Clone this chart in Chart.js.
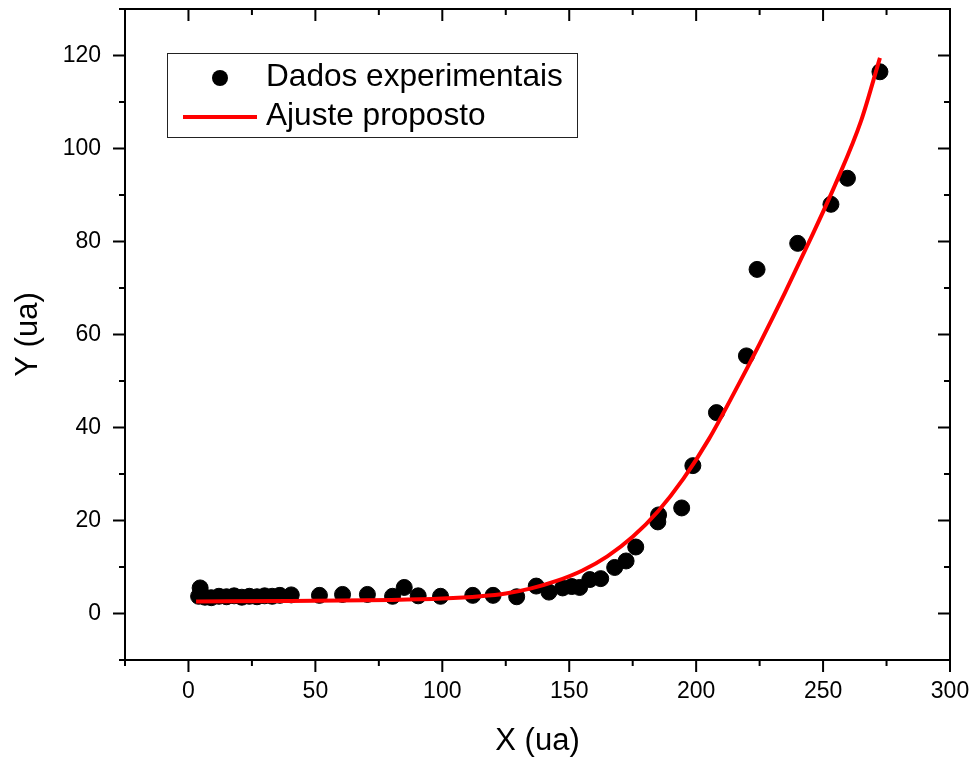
<!DOCTYPE html>
<html>
<head>
<meta charset="utf-8">
<script src="https://cdn.jsdelivr.net/npm/chart.js@4.4.1/dist/chart.umd.min.js"></script>
<style>
  body { margin: 0; background: #fff; }
  #wrap { width: 975px; height: 760px; }
</style>
</head>
<body>
<div id="wrap"><canvas id="chart"></canvas></div>
<script>
// experimental points
const expX = [4.0, 4.6, 6.5, 9, 12, 15, 18, 21, 24, 27, 30, 33, 36, 40.5,
  51.6, 60.7, 70.5, 80.4, 85.0, 90.5, 99.3, 112.0, 120.0, 129.3, 137.0, 142.0,
  147.4, 151.0, 154.1, 158.1, 162.4, 167.9, 172.4, 176.2, 184.9, 185.2, 194.3,
  198.7, 208.0, 219.8, 224.0, 240.0, 253.1, 259.6, 272.4];
const expY = [3.7, 5.5, 3.5, 3.4, 3.7, 3.6, 3.8, 3.5, 3.7, 3.6, 3.8, 3.7, 3.9, 4.0,
  3.9, 4.1, 4.1, 3.7, 5.6, 3.8, 3.7, 3.9, 3.9, 3.6, 5.9, 4.6,
  5.5, 5.8, 5.6, 7.3, 7.5, 9.9, 11.3, 14.3, 19.7, 21.2, 22.7,
  31.8, 43.2, 55.4, 74.0, 79.6, 88.0, 93.6, 116.5];

// fitted curve
const fitX = [3, 40, 80, 100, 115, 125, 135, 145, 155, 165, 175, 185, 195, 205, 215, 225, 235, 245, 255, 265, 272.4];
const fitY = [2.6, 2.7, 2.9, 3.2, 3.7, 4.3, 5.4, 7.0, 9.2, 12.3, 16.5, 22.0, 29.0, 37.5, 47.5, 58.0, 69.0, 80.5, 92.5, 106.0, 119.5];

const seriesNames = ['Dados experimentais', 'Ajuste proposto'];
const xMajor = [0, 50, 100, 150, 200, 250, 300];
const xMinor = [-25, 25, 75, 125, 175, 225, 275];
const yMajor = [0, 20, 40, 60, 80, 100, 120];
const yMinor = [-10, 10, 30, 50, 70, 90, 110, 130];

const FONT = '"Liberation Sans", Arial, sans-serif';

const frameTicks = {
  id: 'frameTicks',
  afterDraw(chart) {
    const {ctx, chartArea: a, scales: {x, y}} = chart;
    ctx.save();
    ctx.strokeStyle = '#000';
    ctx.lineWidth = 2;
    ctx.strokeRect(a.left, a.top, a.right - a.left, a.bottom - a.top);
    ctx.beginPath();
    const big = 12, small = 6;
    xMajor.forEach(v => {
      const p = x.getPixelForValue(v);
      ctx.moveTo(p, a.bottom); ctx.lineTo(p, a.bottom + big);
      ctx.moveTo(p, a.top); ctx.lineTo(p, a.top + big);
    });
    xMinor.forEach(v => {
      const p = x.getPixelForValue(v);
      ctx.moveTo(p, a.bottom); ctx.lineTo(p, a.bottom + small);
      ctx.moveTo(p, a.top); ctx.lineTo(p, a.top + small);
    });
    yMajor.forEach(v => {
      const p = y.getPixelForValue(v);
      ctx.moveTo(a.left, p); ctx.lineTo(a.left - big, p);
      ctx.moveTo(a.right, p); ctx.lineTo(a.right - big, p);
    });
    yMinor.forEach(v => {
      const p = y.getPixelForValue(v);
      ctx.moveTo(a.left, p); ctx.lineTo(a.left - small, p);
      ctx.moveTo(a.right, p); ctx.lineTo(a.right - small, p);
    });
    ctx.stroke();

    // legend box
    ctx.lineWidth = 1;
    ctx.strokeStyle = '#222';
    ctx.strokeRect(167.5, 53.5, 410, 84);
    ctx.fillStyle = '#000';
    ctx.beginPath();
    ctx.arc(220, 78, 8, 0, Math.PI * 2);
    ctx.fill();
    ctx.strokeStyle = '#ff0000';
    ctx.lineWidth = 4;
    ctx.beginPath();
    ctx.moveTo(183, 117); ctx.lineTo(257, 117);
    ctx.stroke();
    ctx.fillStyle = '#000';
    ctx.font = '31.6px ' + FONT;
    ctx.textBaseline = 'alphabetic';
    ctx.textAlign = 'left';
    ctx.fillText(seriesNames[0], 266, 86);
    ctx.fillText(seriesNames[1], 266, 125);
    ctx.restore();
  }
};

new Chart(document.getElementById('chart'), {
  type: 'scatter',
  data: {
    datasets: [
      {
        label: seriesNames[0],
        data: expX.map((v, i) => ({x: v, y: expY[i]})),
        backgroundColor: '#000',
        borderColor: '#000',
        pointRadius: 8,
        pointHoverRadius: 8,
        order: 1
      },
      {
        type: 'line',
        label: seriesNames[1],
        data: fitX.map((v, i) => ({x: v, y: fitY[i]})),
        borderColor: '#ff0000',
        borderWidth: 4,
        pointRadius: 0,
        fill: false,
        cubicInterpolationMode: 'monotone',
        order: 0
      }
    ]
  },
  options: {
    responsive: true,
    maintainAspectRatio: false,
    animation: false,
    layout: {padding: {top: 8, right: 25, left: 0, bottom: 0}},
    plugins: {legend: {display: false}, tooltip: {enabled: false}},
    scales: {
      x: {
        type: 'linear',
        position: 'bottom',
        min: -25,
        max: 300,
        afterBuildTicks: s => { s.ticks = xMajor.map(v => ({value: v})); },
        afterFit: s => { s.height = 100; s.paddingLeft = 0; s.paddingRight = 0; },
        grid: {display: true, drawOnChartArea: false, drawTicks: true, tickLength: 12, color: 'rgba(0,0,0,0)'},
        border: {display: false},
        ticks: {color: '#000', font: {family: FONT, size: 23}, padding: 6, maxRotation: 0},
        title: {display: true, text: 'X (ua)', color: '#000', font: {family: FONT, size: 31}, padding: {top: 0, bottom: 0}}
      },
      y: {
        type: 'linear',
        position: 'left',
        min: -10,
        max: 130,
        afterBuildTicks: s => { s.ticks = yMajor.map(v => ({value: v})); },
        afterFit: s => { s.width = 125; s.paddingTop = 0; s.paddingBottom = 0; },
        grid: {display: true, drawOnChartArea: false, drawTicks: true, tickLength: 12, color: 'rgba(0,0,0,0)'},
        border: {display: false},
        ticks: {color: '#000', font: {family: FONT, size: 23}, padding: 12},
        title: {display: true, text: 'Y (ua)', color: '#000', font: {family: FONT, size: 31}, padding: {top: 10, bottom: 0}}
      }
    }
  },
  plugins: [frameTicks]
});
</script>
</body>
</html>
